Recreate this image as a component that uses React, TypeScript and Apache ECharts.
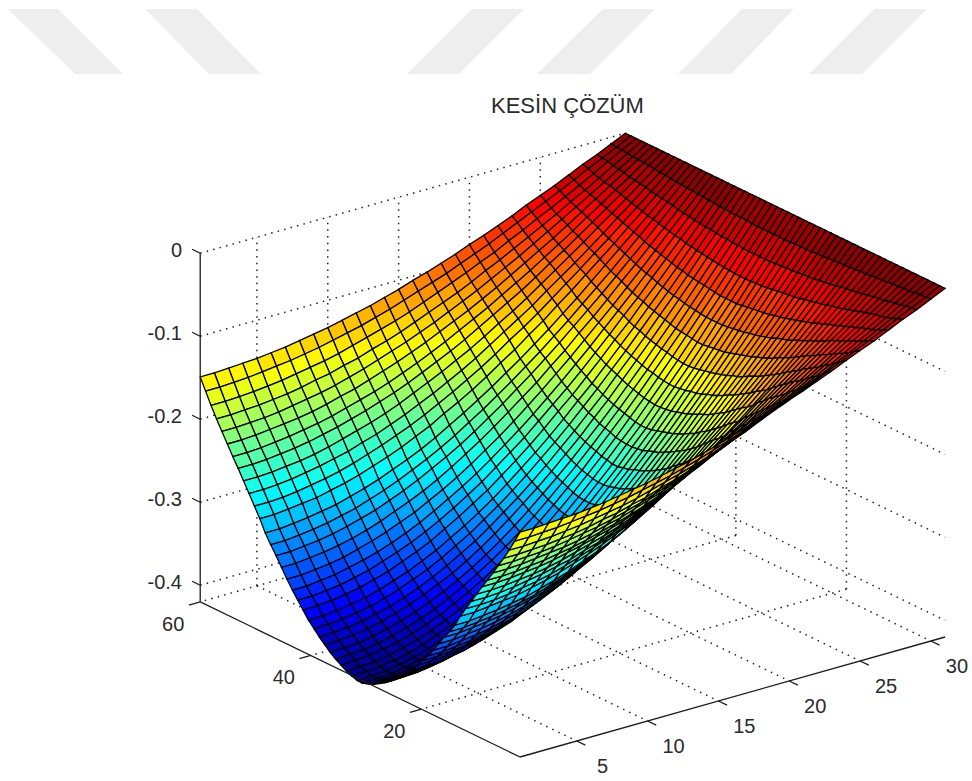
import React, { useEffect, useRef } from "react";
import * as echarts from "echarts";

const titleText = "KESİN ÇÖZÜM";
const xTicks = [5, 10, 15, 20, 25, 30];
const yTicks = [20, 40, 60];
const zTicks = [0, -0.1, -0.2, -0.3, -0.4];
const zFloor = -0.42;
const zLow = -0.425;

// Depth below zero, in thousandths: one row per y line, one value per x line.
const y01 = [149,149,148,147,146,144,142,139,136,133,129,125,121,116,111,105,100,94,88,81,75,68,61,53,46,39,31,23,16,8,0];
const y02 = [163,163,162,161,159,157,155,152,149,145,141,137,132,127,121,115,109,103,96,89,82,74,66,58,50,42,34,25,17,9,0];
const y03 = [177,177,176,175,173,171,168,165,162,158,153,148,143,138,132,125,118,111,104,96,89,80,72,63,55,46,37,28,18,9,0];
const y04 = [190,190,189,188,186,184,181,177,174,169,165,159,154,148,141,134,127,120,112,103,95,86,77,68,59,49,40,30,20,10,0];
const y05 = [202,202,201,200,198,195,192,189,185,180,175,169,163,157,150,143,135,127,119,110,101,92,82,72,62,52,42,32,21,11,0];
const y06 = [214,214,213,211,209,207,204,200,195,191,185,179,173,166,159,151,143,135,126,117,107,97,87,77,66,55,44,33,22,11,0];
const y07 = [226,226,225,223,221,218,215,211,206,201,196,190,183,176,168,160,151,142,133,123,113,103,92,81,70,58,47,35,24,12,0];
const y08 = [237,237,236,234,232,229,225,221,216,211,205,199,192,184,176,168,159,149,139,129,119,108,96,85,73,61,49,37,25,12,0];
const y09 = [249,249,248,246,244,241,237,232,227,222,216,209,201,193,185,176,167,157,146,136,125,113,101,89,77,64,52,39,26,13,0];
const y10 = [261,261,260,258,255,252,248,244,238,233,226,219,211,203,194,185,175,164,153,142,131,118,106,94,81,68,54,41,27,14,0];
const y11 = [273,273,272,270,267,264,260,255,249,243,236,229,221,212,203,193,183,172,160,149,137,124,111,98,84,71,57,43,29,14,0];
const y12 = [285,285,283,281,279,275,271,266,260,254,247,239,231,221,212,202,191,179,168,155,143,129,116,102,88,74,59,45,30,15,0];
const y13 = [299,299,297,295,292,289,284,279,273,266,259,251,242,232,222,211,200,188,176,163,150,136,122,107,92,77,62,47,31,16,0];
const y14 = [310,310,308,306,303,299,295,289,283,276,268,260,251,241,230,219,207,195,182,169,155,141,126,111,96,80,64,48,32,16,0];
const y15 = [320,320,318,316,313,309,304,299,292,285,277,268,259,249,238,226,214,201,188,174,160,145,130,115,99,83,67,50,33,17,0];
const y16 = [331,331,329,327,324,320,315,309,302,295,287,278,268,257,246,234,221,208,195,180,166,150,135,119,102,86,69,52,35,17,0];
const y17 = [342,342,340,338,335,330,325,319,312,305,296,287,277,266,254,242,229,215,201,186,171,155,139,123,106,89,71,53,36,18,0];
const y18 = [352,352,350,348,344,340,335,329,322,314,305,295,285,274,262,249,236,222,207,192,176,160,143,126,109,91,73,55,37,18,0];
const y19 = [361,361,359,357,353,349,343,337,330,322,313,303,292,281,268,255,242,227,212,197,181,164,147,129,112,93,75,56,38,19,0];
const y20 = [370,369,368,365,362,357,352,345,338,330,320,310,299,288,275,262,248,233,217,202,185,168,150,133,114,96,77,58,39,19,0];
const y21 = [379,378,377,374,371,366,360,354,346,338,328,318,307,295,282,268,254,239,223,206,190,172,154,136,117,98,79,59,40,20,0];
const y22 = [386,385,384,381,378,373,367,360,353,344,334,324,312,300,287,273,258,243,227,210,193,175,157,138,119,100,80,60,40,20,0];
const y23 = [393,392,391,388,384,380,374,367,359,350,340,330,318,305,292,278,263,247,231,214,197,178,160,141,121,102,82,61,41,21,0];
const y24 = [399,398,397,394,390,385,379,372,364,356,346,335,323,310,296,282,267,251,235,217,200,181,162,143,123,103,83,62,42,21,0];
const y25 = [405,404,403,400,396,391,385,378,370,361,351,340,328,315,301,286,271,255,238,221,203,184,165,145,125,105,84,63,42,21,0];
const y26 = [410,409,408,405,401,396,390,383,375,365,355,344,332,319,305,290,274,258,241,223,205,186,167,147,127,106,85,64,43,21,0];
const y27 = [414,413,412,409,405,400,394,387,378,369,359,347,335,322,308,293,277,261,243,225,207,188,168,148,128,107,86,65,43,22,0];
const y28 = [418,417,416,413,409,404,398,390,382,372,362,351,338,325,311,296,280,263,246,228,209,190,170,150,129,108,87,65,44,22,0];
const y29 = [421,420,419,416,412,407,400,393,385,375,365,353,341,327,313,298,282,265,247,229,211,191,171,151,130,109,88,66,44,22,0];
const y30 = [423,422,421,418,414,409,402,395,386,377,366,355,342,329,314,299,283,266,249,230,212,192,172,152,131,109,88,66,44,22,0];
const y31 = [423,422,421,418,414,409,402,395,386,377,366,355,342,329,314,299,283,266,249,230,212,192,172,152,131,109,88,66,44,22,0];
const y32 = [421,420,419,416,412,407,400,393,385,375,365,353,341,327,313,298,282,265,247,229,211,191,171,151,130,109,88,66,44,22,0];
const y33 = [418,417,416,413,409,404,398,390,382,372,362,351,338,325,311,296,280,263,246,228,209,190,170,150,129,108,87,65,44,22,0];
const y34 = [414,413,412,409,405,400,394,387,378,369,359,347,335,322,308,293,277,261,243,225,207,188,168,148,128,107,86,65,43,22,0];
const y35 = [410,409,408,405,401,396,390,383,375,365,355,344,332,319,305,290,274,258,241,223,205,186,167,147,127,106,85,64,43,21,0];
const y36 = [405,404,403,400,396,391,385,378,370,361,351,340,328,315,301,286,271,255,238,221,203,184,165,145,125,105,84,63,42,21,0];
const y37 = [399,398,397,394,390,385,379,372,364,356,346,335,323,310,296,282,267,251,235,217,200,181,162,143,123,103,83,62,42,21,0];
const y38 = [393,392,391,388,384,380,374,367,359,350,340,330,318,305,292,278,263,247,231,214,197,178,160,141,121,102,82,61,41,21,0];
const y39 = [386,385,384,381,378,373,367,360,353,344,334,324,312,300,287,273,258,243,227,210,193,175,157,138,119,100,80,60,40,20,0];
const y40 = [379,378,377,374,371,366,360,354,346,338,328,318,307,295,282,268,254,239,223,206,190,172,154,136,117,98,79,59,40,20,0];
const y41 = [370,369,368,365,362,357,352,345,338,330,320,310,299,288,275,262,248,233,217,202,185,168,150,133,114,96,77,58,39,19,0];
const y42 = [361,361,359,357,353,349,343,337,330,322,313,303,292,281,268,255,242,227,212,197,181,164,147,129,112,93,75,56,38,19,0];
const y43 = [352,352,350,348,344,340,335,329,322,314,305,295,285,274,262,249,236,222,207,192,176,160,143,126,109,91,73,55,37,18,0];
const y44 = [342,342,340,338,335,330,325,319,312,305,296,287,277,266,254,242,229,215,201,186,171,155,139,123,106,89,71,53,36,18,0];
const y45 = [331,331,329,327,324,320,315,309,302,295,287,278,268,257,246,234,221,208,195,180,166,150,135,119,102,86,69,52,35,17,0];
const y46 = [320,320,318,316,313,309,304,299,292,285,277,268,259,249,238,226,214,201,188,174,160,145,130,115,99,83,67,50,33,17,0];
const y47 = [310,310,308,306,303,299,295,289,283,276,268,260,251,241,230,219,207,195,182,169,155,141,126,111,96,80,64,48,32,16,0];
const y48 = [299,299,297,295,292,289,284,279,273,266,259,251,242,232,222,211,200,188,176,163,150,136,122,107,92,77,62,47,31,16,0];
const y49 = [285,285,283,281,279,275,271,266,260,254,247,239,231,221,212,202,191,179,168,155,143,129,116,102,88,74,59,45,30,15,0];
const y50 = [273,273,272,270,267,264,260,255,249,243,236,229,221,212,203,193,183,172,160,149,137,124,111,98,84,71,57,43,29,14,0];
const y51 = [261,261,260,258,255,252,248,244,238,233,226,219,211,203,194,185,175,164,153,142,131,118,106,94,81,68,54,41,27,14,0];
const y52 = [249,249,248,246,244,241,237,232,227,222,216,209,201,193,185,176,167,157,146,136,125,113,101,89,77,64,52,39,26,13,0];
const y53 = [237,237,236,234,232,229,225,221,216,211,205,199,192,184,176,168,159,149,139,129,119,108,96,85,73,61,49,37,25,12,0];
const y54 = [226,226,225,223,221,218,215,211,206,201,196,190,183,176,168,160,151,142,133,123,113,103,92,81,70,58,47,35,24,12,0];
const y55 = [214,214,213,211,209,207,204,200,195,191,185,179,173,166,159,151,143,135,126,117,107,97,87,77,66,55,44,33,22,11,0];
const y56 = [202,202,201,200,198,195,192,189,185,180,175,169,163,157,150,143,135,127,119,110,101,92,82,72,62,52,42,32,21,11,0];
const y57 = [190,190,189,188,186,184,181,177,174,169,165,159,154,148,141,134,127,120,112,103,95,86,77,68,59,49,40,30,20,10,0];
const y58 = [177,177,176,175,173,171,168,165,162,158,153,148,143,138,132,125,118,111,104,96,89,80,72,63,55,46,37,28,18,9,0];
const y59 = [163,163,162,161,159,157,155,152,149,145,141,137,132,127,121,115,109,103,96,89,82,74,66,58,50,42,34,25,17,9,0];
const y60 = [149,149,148,147,146,144,142,139,136,133,129,125,121,116,111,105,100,94,88,81,75,68,61,53,46,39,31,23,16,8,0];

const surfaceRows = [
  y01, y02, y03, y04, y05, y06, y07, y08, y09, y10, y11, y12, y13, y14, y15, y16, y17, y18, y19, y20,
  y21, y22, y23, y24, y25, y26, y27, y28, y29, y30, y31, y32, y33, y34, y35, y36, y37, y38, y39, y40,
  y41, y42, y43, y44, y45, y46, y47, y48, y49, y50, y51, y52, y53, y54, y55, y56, y57, y58, y59, y60,
];

const watermark = [
  [[8, 9], [58, 9], [123, 74], [75, 74]],
  [[145, 9], [197, 9], [261, 74], [209, 74]],
  [[472, 9], [524, 9], [459, 74], [407, 74]],
  [[603, 9], [655, 9], [590, 74], [537, 74]],
  [[742, 9], [794, 9], [731, 74], [678, 74]],
  [[874, 9], [927, 9], [862, 74], [809, 74]],
];

const nCols = surfaceRows[0].length - 1;
const nRows = surfaceRows.length - 1;

// View: screen position of a grid point (t along x lines, s along y lines).
function project(t: number, s: number, z: number): [number, number] {
  return [
    520 + t * 14.17 - s * 5.42,
    757 - t * 4 - s * 2.63 - (z - zFloor) * 830,
  ];
}
const tOf = (x: number) => x - 1;
const sOf = (y: number) => 1.02 * y - 2.2;

function jet(v: number): string {
  const q = Math.round(Math.min(1, Math.max(0, v)) * 63) / 63;
  const c = (a: number) => Math.round(255 * Math.min(1, Math.max(0, a)));
  const r = c(Math.min(4 * q - 1.5, -4 * q + 4.5));
  const g = c(Math.min(4 * q - 0.5, -4 * q + 3.5));
  const b = c(Math.min(4 * q + 0.5, -4 * q + 2.5));
  return `rgb(${r},${g},${b})`;
}

const zAt = (t: number, s: number) => -surfaceRows[s][t] / 1000;

// Cells, far to near.
const cells: number[][] = [];
for (let s = nRows - 1; s >= 0; s--) {
  for (let t = nCols - 1; t >= 0; t--) cells.push([t, s]);
}

type Seg = { a: number[]; b: number[]; solid: boolean };
const segs: Seg[] = [];
const tEnd = nCols;
const sEnd = nRows;
for (const z of zTicks) {
  segs.push({ a: [0, sEnd, z], b: [tEnd, sEnd, z], solid: false });
  segs.push({ a: [tEnd, sEnd, z], b: [tEnd, 0, z], solid: false });
}
for (const x of xTicks) {
  const t = tOf(x);
  segs.push({ a: [t, sEnd, zFloor], b: [t, sEnd, 0], solid: false });
  segs.push({ a: [t, sEnd, zFloor], b: [t, 0, zFloor], solid: false });
}
for (const y of yTicks) {
  const s = sOf(y);
  segs.push({ a: [tEnd, s, zFloor], b: [tEnd, s, 0], solid: false });
  segs.push({ a: [tEnd, s, zFloor], b: [0, s, zFloor], solid: false });
}

const axisSegs: Seg[] = [
  { a: [0, sEnd, 0], b: [0, sEnd, zFloor], solid: true },
  { a: [0, sEnd, zFloor], b: [0, 0, zFloor], solid: true },
  { a: [0, 0, zFloor], b: [tEnd, 0, zFloor], solid: true },
];
for (const z of zTicks) axisSegs.push({ a: [0, sEnd, z], b: [0, sEnd + 1.5, z], solid: true });
for (const y of yTicks) axisSegs.push({ a: [0, sOf(y), zFloor], b: [-0.8, sOf(y), zFloor], solid: true });
for (const x of xTicks) axisSegs.push({ a: [tOf(x), 0, zFloor], b: [tOf(x), -1.6, zFloor], solid: true });

type Lab = { text: string; at: [number, number]; align: string };
const labels: Lab[] = [];
for (const z of zTicks) {
  const p = project(0, sEnd, z);
  labels.push({ text: z === 0 ? "0" : z.toFixed(1), at: [182, p[1] - 3], align: "right" });
}
for (const y of yTicks) {
  const p = project(0, sOf(y), zFloor);
  labels.push({ text: String(y), at: [p[0] - 27, p[1] + 22], align: "center" });
}
for (const x of xTicks) {
  const p = project(tOf(x), 0, zFloor);
  labels.push({ text: String(x), at: [p[0] + 26, p[1] + 25], align: "center" });
}

function segRender(list: Seg[]) {
  return (params: any, api: any) => {
    const seg = list[params.dataIndex];
    const p1 = api.coord(project(seg.a[0], seg.a[1], seg.a[2]));
    const p2 = api.coord(project(seg.b[0], seg.b[1], seg.b[2]));
    return {
      type: "line",
      silent: true,
      shape: { x1: p1[0], y1: p1[1], x2: p2[0], y2: p2[1] },
      style: seg.solid
        ? { stroke: "#1c1c1c", lineWidth: 1.3, fill: "none" }
        : { stroke: "#222", lineWidth: 1.5, lineDash: [1.5, 5.2], fill: "none" },
    };
  };
}

export default function App() {
  const ref = useRef<HTMLDivElement>(null);
  useEffect(() => {
    document.body.style.margin = "0";
    const chart = echarts.init(ref.current!, undefined, { renderer: "svg" });
    chart.setOption({
      animation: false,
      backgroundColor: "#fff",
      title: {
        text: titleText,
        left: 491,
        top: 94,
        padding: 0,
        textStyle: { fontFamily: "Liberation Sans", fontSize: 22, fontWeight: "normal", color: "#2a2a2a" },
      },
      grid: { left: 0, right: 0, top: 0, bottom: 0 },
      xAxis: { type: "value", min: 0, max: 972, show: false },
      yAxis: { type: "value", min: 0, max: 781, inverse: true, show: false },
      graphic: watermark.map((points) => ({
        type: "polygon",
        silent: true,
        z: -10,
        shape: { points },
        style: { fill: "#eeeeee" },
      })),
      tooltip: { show: false },
      series: [
        {
          type: "custom",
          coordinateSystem: "cartesian2d",
          silent: true,
          z: 1,
          data: segs.map((_, i) => [i]),
          encode: { x: 0 },
          renderItem: segRender(segs),
        },
        {
          type: "custom",
          coordinateSystem: "cartesian2d",
          silent: true,
          z: 2,
          data: cells,
          encode: { x: 0, y: 1 },
          renderItem: (_: any, api: any) => {
            const t = api.value(0);
            const s = api.value(1);
            const corners = [[t, s], [t + 1, s], [t + 1, s + 1], [t, s + 1]];
            const zs = corners.map(([a, b]) => zAt(a, b));
            const mean = (zs[0] + zs[1] + zs[2] + zs[3]) / 4;
            return {
              type: "polygon",
              silent: true,
              shape: { points: corners.map(([a, b], i) => api.coord(project(a, b, zs[i]))) },
              style: { fill: jet((mean - zLow) / -zLow), stroke: "#000", lineWidth: 1.3 },
            };
          },
        },
        {
          type: "custom",
          coordinateSystem: "cartesian2d",
          silent: true,
          z: 3,
          data: axisSegs.map((_, i) => [i]),
          encode: { x: 0 },
          renderItem: segRender(axisSegs),
        },
        {
          type: "custom",
          coordinateSystem: "cartesian2d",
          silent: true,
          z: 4,
          data: labels.map((_, i) => [i]),
          encode: { x: 0 },
          renderItem: (params: any, api: any) => {
            const lab = labels[params.dataIndex];
            const p = api.coord(lab.at);
            return {
              type: "text",
              silent: true,
              style: {
                text: lab.text,
                x: p[0],
                y: p[1],
                align: lab.align,
                verticalAlign: "middle",
                fill: "#2a2a2a",
                fontFamily: "Liberation Sans",
                fontSize: 20,
              },
            };
          },
        },
      ],
    });
    return () => chart.dispose();
  }, []);
  return <div ref={ref} style={{ width: 972, height: 781 }} />;
}
